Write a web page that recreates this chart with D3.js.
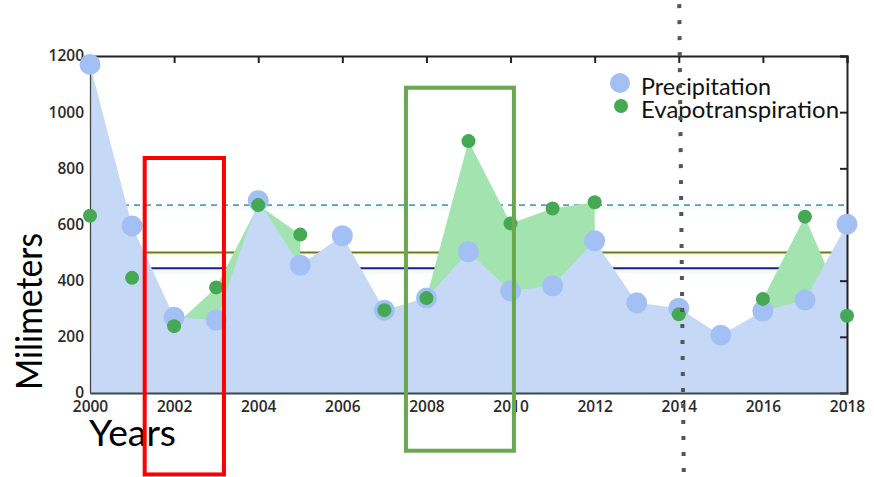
<!DOCTYPE html>
<html>
<head>
<meta charset="utf-8">
<script src="https://cdn.jsdelivr.net/npm/d3@7"></script>
<style>
  html, body { margin: 0; padding: 0; background: #ffffff; }
  svg { display: block; }
</style>
</head>
<body>
<svg id="chart" width="874" height="477"></svg>
<script>
// ---------- data ----------
const years = [2000, 2001, 2002, 2003, 2004, 2005, 2006, 2007, 2008, 2009,
               2010, 2011, 2012, 2013, 2014, 2015, 2016, 2017, 2018];
const precipitation = [1170, 595, 270, 260, 685, 455, 560, 295, 338, 503,
                       363, 382, 542, 321, 302, 206, 292, 331, 601];
const evapotranspiration = [631, 410, 238, 376, 669, 564, null, 295, 338, 897,
                            604, 657, 679, null, 280, null, 335, 628, 275];
const xTickValues = [2000, 2002, 2004, 2006, 2008, 2010, 2012, 2014, 2016, 2018];
const yTickValues = [0, 200, 400, 600, 800, 1000, 1200];
const refDashed = 669;   // dashed teal reference
const refOlive = 500;    // olive reference
const refNavy = 444;     // navy reference
const legendLabels = ["Precipitation", "Evapotranspiration"];
const xLabel = "Years";
const yLabel = "Milimeters";
// annotations in data units: [x0, x1, y0, y1]
const redBox = [2001.30, 2003.185, 836.8, -290];
const greenBox = [2007.513, 2010.08, 1087, -205.5];
const dottedLine = [2014.01, 2014.12, 1399, -299];

// ---------- layout ----------
const svg = d3.select("#chart");
const x = d3.scaleLinear().domain([2000, 2018]).range([90, 847]);
const y = d3.scaleLinear().domain([0, 1200]).range([393, 56]);

const C = {
  blueArea: "#c5d9f7",
  blueDot: "#a2c0f4",
  greenArea: "#a2e3b0",
  greenDot: "#45a853",
  olive: "#6e7a1e",
  navy: "#1c1c96",
  dash: "#5a9db3"
};

const rows = years.map((yr, i) => ({ yr, p: precipitation[i], e: evapotranspiration[i] }));

// reference lines (behind areas)
function refLine(v, color, halo, dashed) {
  svg.append("line")
    .attr("x1", x(2000)).attr("x2", x(2018))
    .attr("y1", y(v) + 3).attr("y2", y(v) + 3)
    .attr("stroke", halo).attr("stroke-width", 4);
  const l = svg.append("line")
    .attr("x1", x(2000)).attr("x2", x(2018))
    .attr("y1", y(v)).attr("y2", y(v))
    .attr("stroke", color).attr("stroke-width", dashed ? 1.6 : 2);
  if (dashed) l.attr("stroke-dasharray", "6,5");
}
refLine(refDashed, C.dash, "#f3fcfe", true);
refLine(refOlive, C.olive, "#fcfdf0", false);
refLine(refNavy, C.navy, "#f2fbf2", false);

// green area
const greenArea = d3.area()
  .defined(d => d.e !== null)
  .x(d => x(d.yr)).y0(y(0)).y1(d => y(d.e));
svg.append("path").datum(rows).attr("d", greenArea).attr("fill", C.greenArea);

// blue area
const blueArea = d3.area()
  .x(d => x(d.yr)).y0(y(0)).y1(d => y(d.p));
svg.append("path").datum(rows).attr("d", blueArea).attr("fill", C.blueArea);

// axes frame
const gTop = svg.append("g").attr("transform", `translate(0,${y(1200)})`)
  .call(d3.axisTop(x).tickValues(xTickValues).tickSize(-7).tickFormat(""));
const gRight = svg.append("g").attr("transform", `translate(${x(2018)},0)`)
  .call(d3.axisRight(y).tickValues(yTickValues).tickSize(-7).tickFormat(""));
const gLeft = svg.append("g").attr("transform", `translate(${x(2000)},0)`)
  .call(d3.axisLeft(y).tickValues(yTickValues).tickSize(0).tickPadding(6).tickFormat(d3.format("d")));
const gBottom = svg.append("g").attr("transform", `translate(0,${y(0)})`)
  .call(d3.axisBottom(x).tickValues(xTickValues).tickSize(0).tickPadding(8).tickFormat(d3.format("d")));

[gTop, gRight].forEach(g => {
  g.select(".domain").attr("stroke", "#222").attr("stroke-width", 2);
  g.selectAll(".tick line").attr("stroke", "#222").attr("stroke-width", 2);
});
gLeft.select(".domain").attr("stroke", "#444").attr("stroke-width", 1.3);
gBottom.select(".domain").attr("stroke", "#3a4a4a").attr("stroke-width", 2);
[gLeft, gBottom].forEach(g => {
  g.selectAll(".tick text")
    .attr("font-family", "'Open Sans', sans-serif")
    .attr("font-weight", 600)
    .attr("font-size", 15.5)
    .attr("fill", "#2a2a2a");
});

// circles
svg.append("g").selectAll("circle").data(rows).join("circle")
  .attr("cx", d => x(d.yr)).attr("cy", d => y(d.p)).attr("r", 10.5)
  .attr("fill", C.blueDot);
svg.append("g").selectAll("circle").data(rows.filter(d => d.e !== null)).join("circle")
  .attr("cx", d => x(d.yr)).attr("cy", d => y(d.e)).attr("r", 7)
  .attr("fill", C.greenDot);

// legend
const lg = svg.append("g");
lg.append("circle").attr("cx", 620).attr("cy", 83).attr("r", 10).attr("fill", C.blueDot);
lg.append("circle").attr("cx", 621).attr("cy", 106).attr("r", 7).attr("fill", C.greenDot);
lg.append("text").attr("x", 641).attr("y", 95).text(legendLabels[0])
  .attr("font-family", "Lato, sans-serif").attr("font-size", 23).attr("fill", "#111")
  .attr("textLength", 130).attr("lengthAdjust", "spacingAndGlyphs");
lg.append("text").attr("x", 641).attr("y", 118).text(legendLabels[1])
  .attr("font-family", "Lato, sans-serif").attr("font-size", 23).attr("fill", "#111")
  .attr("textLength", 198).attr("lengthAdjust", "spacingAndGlyphs");

// axis titles
svg.append("text").attr("x", 89).attr("y", 446).text(xLabel)
  .attr("font-family", "Lato, sans-serif").attr("font-size", 37).attr("fill", "#000")
  .attr("textLength", 87).attr("lengthAdjust", "spacingAndGlyphs");
svg.append("text").attr("transform", "translate(42,390) rotate(-90)").text(yLabel)
  .attr("font-family", "Lato, sans-serif").attr("font-size", 37).attr("fill", "#000")
  .attr("textLength", 157).attr("lengthAdjust", "spacingAndGlyphs");

// dotted vertical line
svg.append("line")
  .attr("x1", x(dottedLine[0])).attr("x2", x(dottedLine[1]))
  .attr("y1", y(dottedLine[2])).attr("y2", y(dottedLine[3]))
  .attr("stroke", "#555").attr("stroke-width", 4)
  .attr("stroke-dasharray", "4,12").attr("stroke-dashoffset", -4);

// annotation boxes
function box(b, color) {
  svg.append("rect")
    .attr("x", x(b[0])).attr("y", y(b[2]))
    .attr("width", x(b[1]) - x(b[0])).attr("height", y(b[3]) - y(b[2]))
    .attr("fill", "none").attr("stroke", color).attr("stroke-width", 4);
}
box(redBox, "#ff0000");
box(greenBox, "#6aa84f");
</script>
</body>
</html>
